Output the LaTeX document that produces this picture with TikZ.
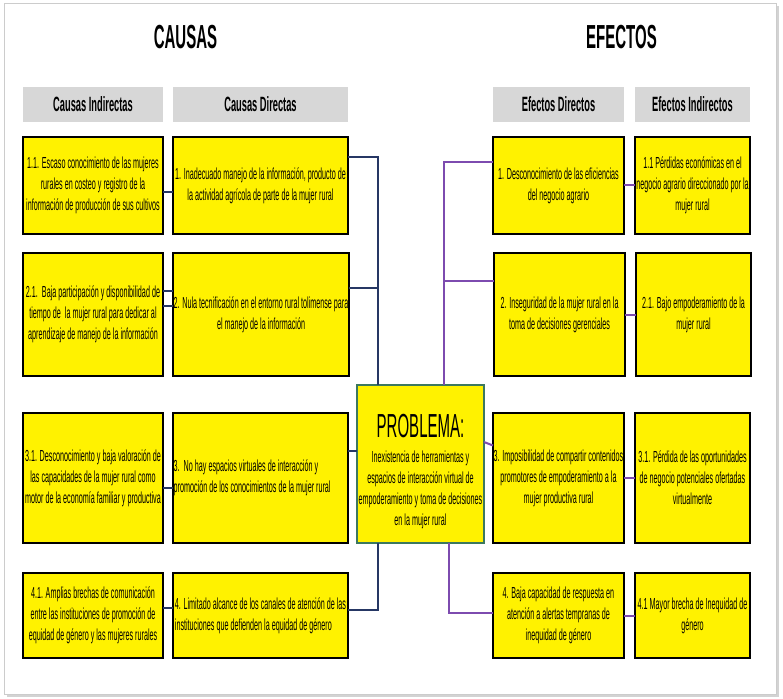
\documentclass[tikz,border=0pt]{standalone}
\usepackage{fontspec}
\setmainfont{Liberation Sans}
\newfontfamily\narrowfont[FakeStretch=0.45]{Liberation Sans}
\usetikzlibrary{
  positioning,
  calc,
  shadows
}

\definecolor{headgray}{RGB}{215,215,215}
\definecolor{causenavy}{RGB}{38,55,100}
\definecolor{effectpurple}{RGB}{125,75,175}
\definecolor{probgreen}{RGB}{60,120,95}

\begin{document}
\begin{tikzpicture}[
  x=0.75pt, y=0.75pt,
  every node/.style={font=\narrowfont},
  title/.style={font=\narrowfont\bfseries\fontsize{25}{30}\selectfont},
  header/.style={fill=headgray, minimum height=26.25pt, inner sep=1pt, outer sep=0pt, font=\narrowfont\bfseries\fontsize{15.5}{18}\selectfont},
  cell/.style={draw=black, line width=1.3pt, fill=yellow, inner xsep=0.5pt, inner ysep=1pt, outer sep=0pt, align=center, font=\narrowfont\fontsize{12}{15.75}\selectfont},
  indirect/.style={cell, minimum width=105pt},
  direct/.style={cell, minimum width=131.25pt},
  effdirect/.style={cell, minimum width=98.25pt},
  effindirect/.style={cell, minimum width=86.25pt},
  problem/.style={draw=probgreen, line width=1.2pt, fill=yellow, minimum width=95.25pt, minimum height=118.5pt, inner sep=1pt, outer sep=0pt, align=center, font=\narrowfont\fontsize{12}{15.75}\selectfont},
  causeline/.style={draw=causenavy, line width=1.5pt},
  effectline/.style={draw=effectpurple, line width=1.5pt}
]
\useasboundingbox (0,0) rectangle (783,-699);

% Page frame
\draw[gray!40, fill=white, drop shadow={shadow xshift=2.5pt, shadow yshift=-2.5pt, opacity=0.35}] (4,-3) rectangle (776,-694);

% Headers
\node[header, minimum width=105pt, anchor=north west] (hci) at (23,-87) {Causas Indirectas};
\node[header, minimum width=131.25pt, right=7.5pt of hci] (hcd) {Causas Directas};
\node[header, minimum width=98.25pt, right=108.75pt of hcd] (hed) {Efectos Directos};
\node[header, minimum width=86.25pt, right=8.25pt of hed] (hei) {Efectos Indirectos};

% Titles
\node[title] (causas) at ($(hci.north west)!0.5!(hcd.north east)+(0,50)$) {CAUSAS};
\node[title] (efectos) at ($(hed.north west)!0.5!(hei.north east)+(0,50)$) {EFECTOS};

% Indirect causes
\node[indirect, minimum height=72.75pt, below=11.25pt of hci] (ci1) {1.1. Escaso conocimiento de las mujeres\\rurales en costeo y registro de la\\información de producción de sus cultivos};
\node[indirect, minimum height=92.25pt, below=14.25pt of ci1] (ci2) {2.1.\ \ Baja participación y disponibilidad de\\tiempo de\ \ la mujer rural para dedicar al\\aprendizaje de manejo de la información};
\node[indirect, minimum height=97.5pt, below=27.75pt of ci2] (ci3) {3.1. Desconocimiento y baja valoración de\\las capacidades de la mujer rural como\\motor de la economía familiar y productiva};
\node[indirect, minimum height=63.75pt, below=22.5pt of ci3] (ci4) {4.1. Amplias brechas de comunicación\\entre las instituciones de promoción de\\equidad de género y las mujeres rurales};

% Direct causes
\node[direct, minimum height=72.75pt, right=7.5pt of ci1] (cd1) {1. Inadecuado manejo de la información, producto de\\la actividad agrícola de parte de la mujer rural};
\node[direct, minimum height=92.25pt, right=7.5pt of ci2] (cd2) {2. Nula tecnificación en el entorno rural tolimense para\\el manejo de la información};
\node[direct, minimum height=97.5pt, right=7.5pt of ci3, align=left] (cd3) {3.\ \ No hay espacios virtuales de interacción y\\promoción de los conocimientos de la mujer rural\hspace*{12.5pt}};
\node[direct, minimum height=63.75pt, right=7.5pt of ci4, align=left] (cd4) {4. Limitado alcance de los canales de atención de las\\instituciones que defienden la equidad de género};

% Problem
\node[problem, right=6.75pt of cd3.south east, anchor=south west] (prob) {{\fontsize{25}{30}\selectfont\rule{0pt}{28pt}PROBLEMA:}\\[3pt]Inexistencia de herramientas y\\espacios de interacción virtual de\\empoderamiento y toma de decisiones\\en la mujer rural};

% Direct effects
\node[effdirect, minimum height=72.75pt, right=108.75pt of cd1] (ed1) {1. Desconocimiento de las eficiencias\\del negocio agrario};
\node[effdirect, minimum height=92.25pt, right=108.75pt of cd2] (ed2) {2. Inseguridad de la mujer rural en la\\toma de decisiones gerenciales};
\node[effdirect, minimum height=97.5pt, right=108.75pt of cd3] (ed3) {3. Imposibilidad de compartir contenidos\\promotores de empoderamiento a la\\mujer productiva rural};
\node[effdirect, minimum height=63.75pt, right=108.75pt of cd4] (ed4) {4. Baja capacidad de respuesta en\\atención a alertas tempranas de\\inequidad de género};

% Indirect effects
\node[effindirect, minimum height=72.75pt, right=8.25pt of ed1] (ei1) {1.1 Pérdidas económicas en el\\negocio agrario direccionado por la\\mujer rural};
\node[effindirect, minimum height=92.25pt, right=8.25pt of ed2] (ei2) {2.1. Bajo empoderamiento de la\\mujer rural};
\node[effindirect, minimum height=97.5pt, right=8.25pt of ed3] (ei3) {3.1. Pérdida de las oportunidades\\de negocio potenciales ofertadas\\virtualmente};
\node[effindirect, minimum height=63.75pt, right=8.25pt of ed4] (ei4) {4.1 Mayor brecha de Inequidad de\\género};

% Indirect to direct causes
\draw[causeline] ($(ci1.east)+(0,-6.5)$) -- ($(cd1.west)+(0,-6.5)$);
\draw[causeline] ($(ci2.east)+(0,23.5)$) -- ($(cd2.west)+(0,23.5)$);
\draw[causeline] ($(ci2.east)+(0,8.5)$) -- ($(cd2.west)+(0,8.5)$);
\draw[causeline] ($(ci3.east)+(0,-10)$) -- ($(cd3.west)+(0,-10)$);
\draw[causeline] ($(ci4.east)+(0,7.5)$) -- ($(cd4.west)+(0,7.5)$);

% Direct causes to problem
\coordinate (ltop) at ($(prob.north west)+(21,0)$);
\coordinate (lbot) at ($(prob.south west)+(21,0)$);
\coordinate (cd2c) at ($(cd2.east)+(0,27)$);
\draw[causeline] ($(cd1.east)+(0,28.5)$) -| (ltop);
\draw[causeline] (cd2c) -- (cd2c -| ltop);
\draw[causeline] ($(cd3.east)+(0,27)$) -- ($(prob.west)+(0,13)$);
\draw[causeline] ($(cd4.east)+(0,5.5)$) -| (lbot);

% Problem to direct effects
\coordinate (rtop) at ($(prob.north east)+(-40,0)$);
\coordinate (rbot) at ($(prob.south east)+(-35,0)$);
\coordinate (ed2c) at ($(ed2.west)+(0,33.5)$);
\draw[effectline] (rtop) |- ($(ed1.west)+(0,23.5)$);
\draw[effectline] (ed2c -| rtop) -- (ed2c);
\draw[effectline] ($(prob.east)+(0,22)$) -- ($(ed3.west)+(0,32.5)$);
\draw[effectline] (rbot) |- ($(ed4.west)+(0,3)$);

% Direct to indirect effects
\draw[effectline] (ed1) -- (ei1);
\draw[effectline] (ed2) -- (ei2);
\draw[effectline] (ed3) -- (ei3);
\draw[effectline] (ed4) -- (ei4);

\end{tikzpicture}
\end{document}
